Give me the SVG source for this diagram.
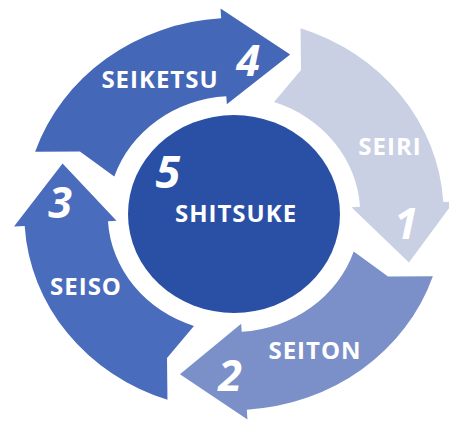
<svg xmlns="http://www.w3.org/2000/svg" width="449" height="423" viewBox="0 0 449 423">
<style>
.bg{fill:#ffffff}
.lbl{font-family:"Open Sans","Liberation Sans",sans-serif;font-weight:700;fill:#ffffff;font-size:24px;letter-spacing:1px;text-anchor:middle}
.num{font-family:"Open Sans","Liberation Sans",sans-serif;font-weight:700;font-style:italic;fill:#ffffff;font-size:43px;text-anchor:middle}
.a1{fill:#c9d0e4}
.a2{fill:#7b90c8}
.a3{fill:#4a6cbc}
.a4{fill:#4567b8}
.ctr{fill:#2a50a6}
</style>
<rect class="bg" x="0" y="0" width="449" height="423"/>
<g id="connectors"/>
<g id="seiri">
<path class="a1" transform="translate(234,214) scale(1.07,1)" d="M62.19,-185.87 L62.60,-143.98 L37.44,-111.90 A118,118 0 0 1 117.78,-7.20 L109.79,-6.72 L163.5,48.5 L205.61,-12.58 L195.63,-11.97 A196,196 0 0 0 62.19,-185.87 Z"/>
<text class="lbl" x="390" y="155">SEIRI</text>
<text class="num" x="406" y="239">1</text>
</g>
<g id="seiton">
<path class="a2" transform="translate(234,214) scale(1.07,1)" d="M185.87,62.19 L143.98,62.60 L111.90,37.44 A118,118 0 0 1 7.20,117.78 L6.72,109.79 L-50.52,160.22 L12.58,205.61 L11.97,195.63 A196,196 0 0 0 185.87,62.19 Z"/>
<text class="lbl" x="315" y="359">SEITON</text>
<text class="num" x="230" y="391">2</text>
</g>
<g id="seiso">
<path class="a3" transform="translate(234,214) scale(1.07,1)" d="M-62.19,185.87 L-62.60,143.98 L-37.44,111.90 A118,118 0 0 1 -117.78,7.20 L-109.79,6.72 L-160.22,-50.52 L-205.61,12.58 L-195.63,11.97 A196,196 0 0 0 -62.19,185.87 Z"/>
<text class="lbl" x="86" y="295">SEISO</text>
<text class="num" x="60" y="218">3</text>
</g>
<g id="seiketsu">
<path class="a4" transform="translate(234,214) scale(1.07,1)" d="M-185.87,-62.19 L-143.98,-62.60 L-111.90,-37.44 A118,118 0 0 1 -7.20,-117.78 L-6.72,-109.79 L52.5,-159.5 L-12.58,-205.61 L-11.97,-195.63 A196,196 0 0 0 -185.87,-62.19 Z"/>
<text class="lbl" x="160" y="88">SEIKETSU</text>
<text class="num" x="248" y="76">4</text>
</g>
<g id="shitsuke">
<ellipse class="ctr" cx="234" cy="214" rx="106" ry="99"/>
<text class="num" x="168" y="188" style="font-size:45px">5</text>
<text class="lbl" x="236" y="222">SHITSUKE</text>
</g>
</svg>
